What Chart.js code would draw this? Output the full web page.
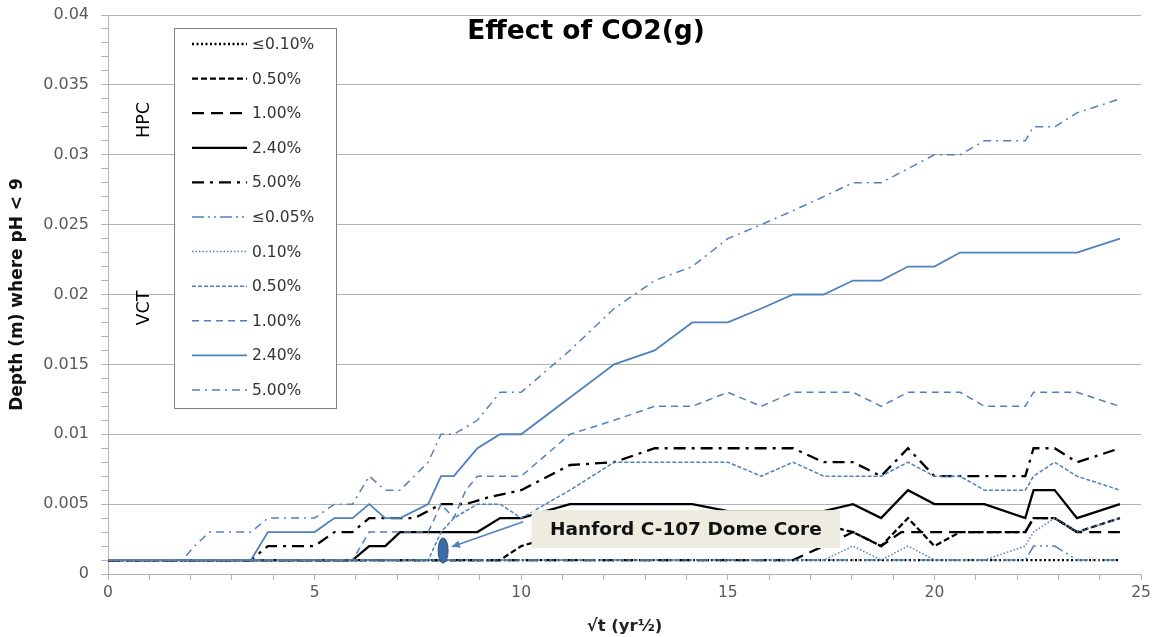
<!DOCTYPE html>
<html>
<head>
<meta charset="utf-8">
<script src="https://cdn.jsdelivr.net/npm/chart.js@4.4.1/dist/chart.umd.min.js"></script>
<style>
  html, body { margin: 0; padding: 0; background: #fff; }
</style>
</head>
<body>
<canvas id="myChart" width="1163" height="637"></canvas>
<script>
// depth (m) where pH < 9 vs sqrt(t) as [sqrt(t), depth] pairs
const blk010 = [[0, .001], [24.49, .001]];
const blk050 = [[0, .001], [9.49, .001], [10, .002], [11.18, .003], [13.23, .004], [15.81, .004], [17.32, .0035], [18.03, .003],
    [18.71, .002], [19.36, .004], [20, .002], [20.62, .003], [22.2, .003], [22.4, .004], [22.91, .004], [23.45, .003], [24.49, .004]];
const blk100 = [[0, .001], [16.58, .001], [17.32, .002], [18.03, .003], [18.71, .002], [19.2, .003], [22.2, .003], [22.4, .004],
    [22.91, .004], [23.45, .003], [24.49, .003]];
const blk240 = [[0, .001], [5.92, .001], [6.32, .002], [6.71, .002], [7.07, .003], [8.94, .003], [9.49, .004], [10, .004],
    [11.18, .005], [14.14, .005], [15, .0045], [17.32, .0045], [18.03, .005], [18.71, .004], [19.36, .006], [20, .005],
    [21.21, .005], [22.2, .004], [22.4, .006], [22.91, .006], [23.45, .004], [24.49, .005]];
const blk500 = [[0, .001], [3.46, .001], [3.87, .002], [5, .002], [5.48, .003], [5.92, .003], [6.32, .004], [7.42, .004],
    [8.06, .005], [8.66, .005], [9.22, .0055], [10, .006], [11.18, .0078], [12.25, .008], [13.23, .009], [16.58, .009],
    [17.32, .008], [18.03, .008], [18.71, .007], [19.36, .009], [20, .007], [22.2, .007], [22.4, .009], [22.91, .009],
    [23.45, .008], [23.98, .0085], [24.49, .009]];
const blu005 = [[0, .001], [22.2, .001], [22.4, .002], [22.91, .002], [23.45, .001], [24.49, .001]];
const blu010 = [[0, .001], [17.32, .001], [18.03, .002], [18.71, .001], [19.36, .002], [20, .001], [21.21, .001], [22.2, .002],
    [22.4, .003], [22.91, .004], [23.45, .003], [24.49, .004]];
const blu050 = [[0, .001], [7.75, .001], [8.06, .003], [8.37, .004], [8.94, .005], [9.49, .005], [10, .004], [11.18, .006],
    [12.25, .008], [15, .008], [15.81, .007], [16.58, .008], [17.32, .007], [18.71, .007], [19.36, .008], [20, .007],
    [20.62, .007], [21.21, .006], [22.2, .006], [22.4, .007], [22.91, .008], [23.45, .007], [24.49, .006]];
const blu100 = [[0, .001], [5.92, .001], [6.32, .003], [7.75, .003], [8.06, .005], [8.37, .004], [8.66, .006], [8.94, .007],
    [10, .007], [11.18, .010], [12.25, .011], [13.23, .012], [14.14, .012], [15, .013], [15.81, .012], [16.58, .013],
    [18.03, .013], [18.71, .012], [19.36, .013], [20.62, .013], [21.21, .012], [22.2, .012], [22.4, .013], [23.45, .013],
    [24.49, .012]];
const blu240 = [[0, .001], [3.46, .001], [3.87, .003], [5, .003], [5.48, .004], [5.92, .004], [6.32, .005], [6.71, .004],
    [7.07, .004], [7.75, .005], [8.06, .007], [8.37, .007], [8.94, .009], [9.49, .010], [10, .010], [12.25, .015],
    [13.23, .016], [14.14, .018], [15, .018], [15.81, .019], [16.58, .020], [17.32, .020], [18.03, .021], [18.71, .021],
    [19.36, .022], [20, .022], [20.62, .023], [23.45, .023], [24.49, .024]];
const blu500 = [[0, .001], [1.8, .001], [2.1, .002], [2.45, .003], [3.46, .003], [3.87, .004], [5, .004], [5.48, .005],
    [5.92, .005], [6.32, .007], [6.71, .006], [7.07, .006], [7.75, .008], [8.06, .010], [8.37, .010], [8.94, .011],
    [9.49, .013], [10, .013], [11.18, .016], [12.25, .019], [13.23, .021], [14.14, .022], [15, .024], [15.81, .025],
    [16.58, .026], [17.32, .027], [18.03, .028], [18.71, .028], [19.36, .029], [20, .030], [20.62, .030], [21.21, .031],
    [22.2, .031], [22.4, .032], [22.91, .032], [23.45, .033], [23.98, .0335], [24.49, .034]];

const seriesNames = ['\u22640.10%', '0.50%', '1.00%', '2.40%', '5.00%', '\u22640.05%', '0.10%', '0.50%', '1.00%', '2.40%', '5.00%'];
const seriesData = [blk010, blk050, blk100, blk240, blk500, blu005, blu010, blu050, blu100, blu240, blu500];

// Hanford C-107 dome core measurement and callout box (data units)
const corePoint = [8.11, 0.00168];
const calloutText = 'Hanford C-107 Dome Core';
const calloutBox = [10.25, 0.00457, 17.72, 0.00186];
const arrowFrom = [10.05, 0.00374];
const arrowTo = [8.32, 0.00195];

const BLUE = '#4f81bd';
const styles = [
    { color: '#000', width: 2.3, dash: [2, 2.5] },
    { color: '#000', width: 2.3, dash: [6, 3] },
    { color: '#000', width: 2.3, dash: [12, 7] },
    { color: '#000', width: 2.3, dash: [] },
    { color: '#000', width: 2.3, dash: [12, 6, 3, 6] },
    { color: BLUE, width: 1.5, dash: [12, 4, 2, 4, 2, 4] },
    { color: BLUE, width: 1.5, dash: [1.5, 2] },
    { color: BLUE, width: 1.5, dash: [4, 2] },
    { color: BLUE, width: 1.5, dash: [7, 5] },
    { color: BLUE, width: 1.8, dash: [] },
    { color: BLUE, width: 1.5, dash: [8, 5, 2, 5] }
];

const datasets = seriesData.map((pts, i) => ({
    label: seriesNames[i],
    data: pts.map(p => ({ x: p[0], y: p[1] })),
    borderColor: styles[i].color,
    borderWidth: styles[i].width,
    borderDash: styles[i].dash,
    order: seriesData.length - i,
    pointRadius: 0,
    tension: 0,
    fill: false
}));

const FONT = 'DejaVu Sans';

const extras = {
    id: 'extras',
    afterDatasetsDraw(chart) {
        const ctx = chart.ctx;
        const xs = chart.scales.x, ys = chart.scales.y;
        ctx.save();

        // arrow
        const ax0 = xs.getPixelForValue(arrowFrom[0]), ay0 = ys.getPixelForValue(arrowFrom[1]);
        const ax1 = xs.getPixelForValue(arrowTo[0]), ay1 = ys.getPixelForValue(arrowTo[1]);
        ctx.strokeStyle = BLUE;
        ctx.fillStyle = BLUE;
        ctx.lineWidth = 1.5;
        ctx.setLineDash([]);
        ctx.beginPath();
        ctx.moveTo(ax0, ay0);
        ctx.lineTo(ax1, ay1);
        ctx.stroke();
        const ang = Math.atan2(ay1 - ay0, ax1 - ax0);
        ctx.beginPath();
        ctx.moveTo(ax1, ay1);
        ctx.lineTo(ax1 - 9 * Math.cos(ang - 0.45), ay1 - 9 * Math.sin(ang - 0.45));
        ctx.lineTo(ax1 - 9 * Math.cos(ang + 0.45), ay1 - 9 * Math.sin(ang + 0.45));
        ctx.closePath();
        ctx.fill();

        // core marker
        const ex = xs.getPixelForValue(corePoint[0]), ey = ys.getPixelForValue(corePoint[1]);
        ctx.beginPath();
        ctx.ellipse(ex, ey, 5, 12.5, 0, 0, Math.PI * 2);
        ctx.fillStyle = '#3e6ca8';
        ctx.fill();
        ctx.strokeStyle = '#2c4f7c';
        ctx.lineWidth = 1;
        ctx.stroke();

        // callout box
        const bx0 = xs.getPixelForValue(calloutBox[0]), by0 = ys.getPixelForValue(calloutBox[1]);
        const bx1 = xs.getPixelForValue(calloutBox[2]), by1 = ys.getPixelForValue(calloutBox[3]);
        ctx.fillStyle = '#eeece1';
        ctx.fillRect(bx0, by0, bx1 - bx0, by1 - by0);
        ctx.fillStyle = '#111';
        ctx.font = 'bold 18.5px "' + FONT + '"';
        ctx.textAlign = 'center';
        ctx.textBaseline = 'middle';
        ctx.fillText(calloutText, (bx0 + bx1) / 2, (by0 + by1) / 2 + 1);

        // title
        ctx.font = 'bold 26.5px "' + FONT + '"';
        ctx.fillStyle = '#000';
        ctx.fillText('Effect of CO2(g)', 586, 32);

        // regime labels
        ctx.font = '17.5px "' + FONT + '"';
        [['HPC', 120], ['VCT', 308]].forEach(([t, y]) => {
            ctx.save();
            ctx.translate(144, y);
            ctx.rotate(-Math.PI / 2);
            ctx.fillText(t, 0, 0);
            ctx.restore();
        });

        // legend
        ctx.fillStyle = '#fff';
        ctx.fillRect(174.5, 28.5, 162, 380);
        ctx.strokeStyle = '#7f7f7f';
        ctx.lineWidth = 1;
        ctx.strokeRect(174.5, 28.5, 162, 380);
        ctx.font = '15.5px "' + FONT + '"';
        ctx.textAlign = 'left';
        chart.data.datasets.forEach((ds, i) => {
            const y = 44 + i * 34.6;
            ctx.strokeStyle = ds.borderColor;
            ctx.lineWidth = ds.borderWidth;
            ctx.setLineDash(ds.borderDash);
            ctx.beginPath();
            ctx.moveTo(192, y);
            ctx.lineTo(247, y);
            ctx.stroke();
            ctx.fillStyle = '#333';
            ctx.fillText(ds.label, 252, y + 1);
        });
        ctx.restore();
    }
};

const config = {
    type: 'line',
    data: { datasets: datasets },
    options: {
        responsive: false,
        animation: false,
        devicePixelRatio: 1,
        layout: { padding: { top: 15, right: 22, left: 0, bottom: 0 } },
        plugins: { legend: { display: false }, tooltip: { enabled: false } },
        scales: {
            x: {
                type: 'linear',
                min: 0,
                max: 25,
                afterFit: s => { s.height = 63; s.paddingLeft = 0; s.paddingRight = 0; },
                ticks: {
                    stepSize: 1,
                    autoSkip: false,
                    maxRotation: 0,
                    padding: 4,
                    color: '#595959',
                    font: { family: FONT, size: 15.5 },
                    callback: v => (v % 5 === 0 ? String(v) : '')
                },
                grid: { drawOnChartArea: false, tickLength: 6, tickColor: '#b3b3b3' },
                border: { color: '#b3b3b3' },
                title: {
                    display: true,
                    text: '\u221At (yr\u00BD)',
                    color: '#222',
                    font: { family: FONT, size: 16.5, weight: 'bold' },
                    padding: { top: 0, bottom: 0 }
                }
            },
            y: {
                min: 0,
                max: 0.04,
                afterFit: s => { s.width = 108; s.paddingTop = 0; s.paddingBottom = 0; },
                ticks: {
                    stepSize: 0.001,
                    autoSkip: false,
                    padding: 12,
                    color: '#595959',
                    font: { family: FONT, size: 16 },
                    callback: v => {
                        const k = Math.round(v * 1000);
                        return k % 5 === 0 ? String(k / 1000) : '';
                    }
                },
                grid: {
                    tickLength: 7,
                    tickColor: '#b3b3b3',
                    color: c => (Math.round(c.tick.value * 1000) % 5 === 0 && c.tick.value > 0 ? '#b3b3b3' : 'rgba(0,0,0,0)')
                },
                border: { color: '#b3b3b3' },
                title: {
                    display: true,
                    text: 'Depth (m) where pH < 9',
                    color: '#111',
                    font: { family: FONT, size: 17, weight: 'bold' },
                    padding: { top: 7, bottom: 0 }
                }
            }
        }
    },
    plugins: [extras]
};

const myChart = new Chart(document.getElementById('myChart'), config);
</script>
</body>
</html>
